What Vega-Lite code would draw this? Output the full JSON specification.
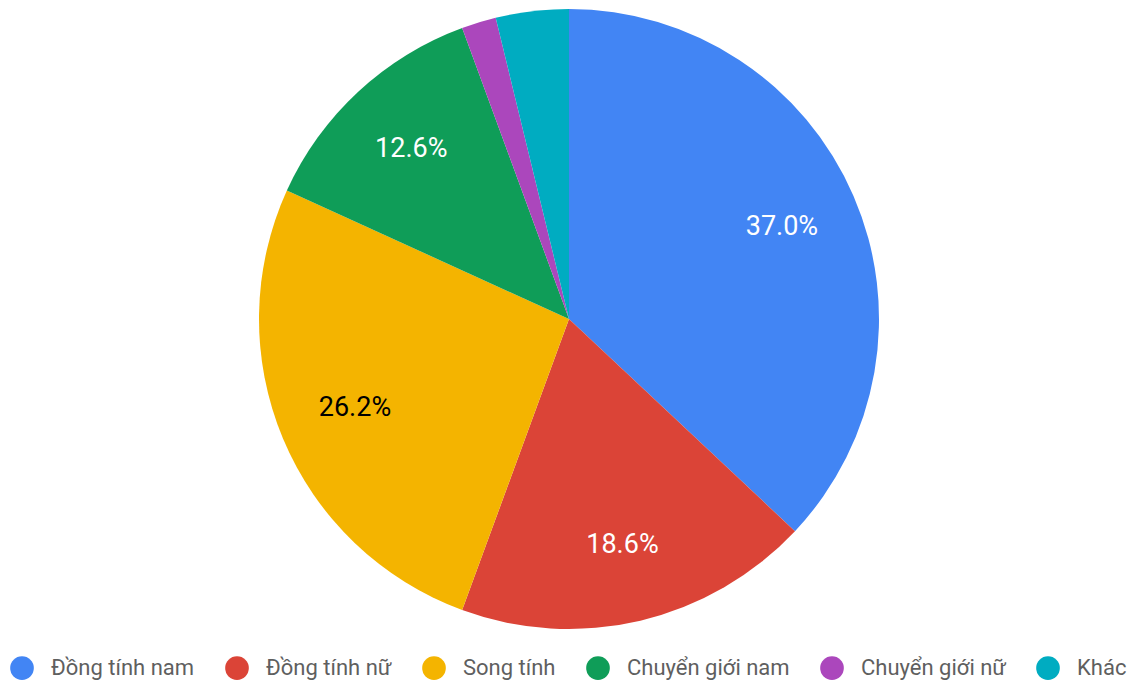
{
  "$schema": "https://vega.github.io/schema/vega-lite/v6.json",
  "width": 1118,
  "height": 638,
  "padding": {"left": 10, "top": 0, "right": 0, "bottom": 0},
  "background": "white",
  "config": {"view": {"stroke": null}, "font": "Roboto"},
  "data": {
    "values": [
      {"rank": 1, "category": "Đồng tính nam", "value": 0.370},
      {"rank": 2, "category": "Đồng tính nữ", "value": 0.186},
      {"rank": 3, "category": "Song tính", "value": 0.262},
      {"rank": 4, "category": "Chuyển giới nam", "value": 0.126},
      {"rank": 5, "category": "Chuyển giới nữ", "value": 0.018},
      {"rank": 6, "category": "Khác", "value": 0.038}
    ]
  },
  "encoding": {
    "theta": {"field": "value", "type": "quantitative", "stack": true},
    "order": {"field": "rank", "type": "quantitative", "sort": "ascending"},
    "color": {
      "field": "category",
      "type": "nominal",
      "sort": ["Đồng tính nam", "Đồng tính nữ", "Song tính", "Chuyển giới nam", "Chuyển giới nữ", "Khác"],
      "scale": {
        "domain": ["Đồng tính nam", "Đồng tính nữ", "Song tính", "Chuyển giới nam", "Chuyển giới nữ", "Khác"],
        "range": ["#4285F4", "#DB4437", "#F4B400", "#0F9D58", "#AB47BC", "#00ACC1"]
      },
      "legend": {
        "title": null,
        "orient": "bottom",
        "direction": "horizontal",
        "offset": 18,
        "symbolType": "circle",
        "symbolSize": 560,
        "symbolStrokeWidth": 0,
        "labelFontSize": 22,
        "labelColor": "#5f5f5f",
        "labelFont": "Roboto",
        "labelOffset": 17,
        "columnPadding": 30,
        "labelLimit": 400
      }
    }
  },
  "layer": [
    {"mark": {"type": "arc", "outerRadius": 310}},
    {
      "mark": {"type": "text", "radius": 232, "fontSize": 27, "font": "Roboto", "baseline": "middle", "align": "center"},
      "encoding": {
        "text": {
          "condition": {"test": "datum.value >= 0.05", "field": "value", "type": "quantitative", "format": ".1%"},
          "value": ""
        },
        "color": {
          "condition": {"test": "datum.category === 'Song tính'", "value": "#000000"},
          "value": "#ffffff"
        }
      }
    }
  ]
}
